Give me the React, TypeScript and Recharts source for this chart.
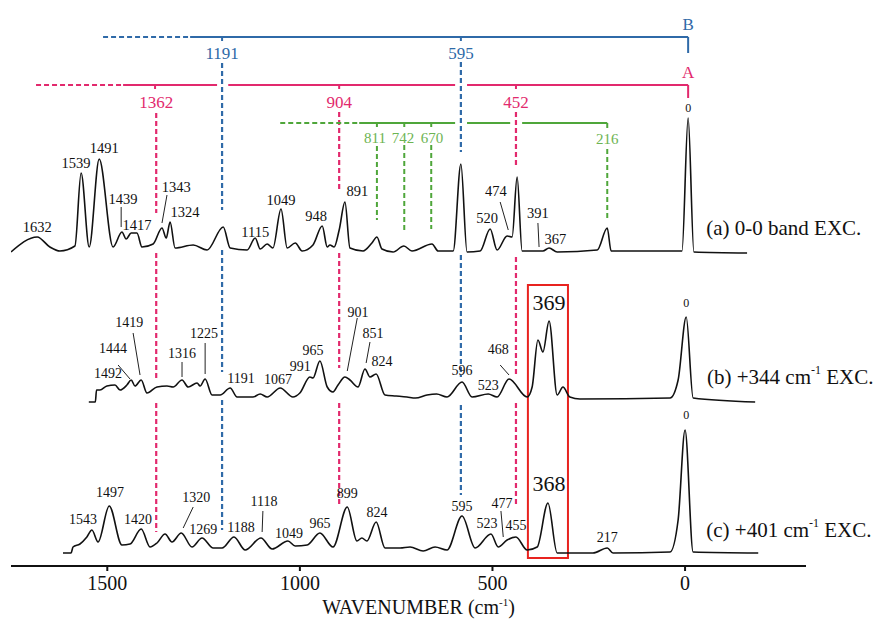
import { LineChart, Line, XAxis, YAxis, ReferenceLine, ReferenceDot, ReferenceArea } from 'recharts';

const SERIF = 'Liberation Serif, DejaVu Serif, serif';
const MAGENTA = '#e2296d';
const BLUE = '#2f6aa8';
const GREEN = '#4fa63a';
const GREEN_TEXT = '#6db452';
const RED = '#e8231f';

// wavenumber (cm-1), intensity (offset per trace)
const traceA: [number, number][] = [
  [1750, 314], [1682, 329], [1649, 319], [1623, 315], [1584, 320], [1568, 393], [1547, 319], [1521, 407],
  [1485, 319], [1462, 334], [1451, 327], [1438, 333], [1423, 333], [1410, 319], [1381, 322], [1358, 338],
  [1347, 328], [1337, 344], [1324, 318], [1277, 321], [1241, 316], [1199, 339], [1181, 318], [1137, 316],
  [1116, 328], [1103, 317], [1085, 322], [1070, 318], [1049, 357], [1033, 318], [1012, 323], [994, 315],
  [966, 321], [942, 340], [929, 319], [922, 321], [911, 319], [898, 336], [883, 364], [870, 318],
  [836, 315], [813, 323], [800, 329], [787, 317], [758, 314], [730, 320], [709, 315], [657, 322],
  [641, 315], [602, 315], [582, 402], [566, 314], [532, 315], [506, 337], [488, 316], [462, 330],
  [449, 329], [436, 389], [423, 315], [369, 315], [353, 318], [332, 314], [228, 316], [202, 338],
  [192, 315], [8, 315], [-8, 448], [-23, 314], [-161, 313],
];

const traceB: [number, number][] = [
  [1548, 164], [1531, 164], [1528, 176], [1519, 176], [1501, 180], [1480, 181], [1467, 176], [1449, 181],
  [1438, 186], [1428, 180], [1412, 186], [1397, 173], [1371, 179], [1345, 180], [1329, 179], [1306, 186],
  [1290, 179], [1267, 183], [1259, 180], [1246, 187], [1228, 171], [1207, 171], [1181, 178], [1163, 169],
  [1122, 169], [1103, 172], [1085, 169], [1051, 178], [1018, 169], [1000, 173], [974, 189], [966, 188],
  [948, 205], [929, 179], [914, 174], [901, 181], [883, 189], [870, 186], [849, 179], [831, 197],
  [818, 189], [802, 192], [779, 171], [750, 170], [722, 169], [700, 168], [670, 171], [645, 172],
  [618, 169], [579, 184], [553, 169], [511, 172], [488, 169], [457, 187], [410, 169], [397, 179],
  [382, 226], [369, 214], [353, 245], [332, 171], [317, 179], [299, 169], [273, 167], [39, 168],
  [18, 186], [-3, 249], [-21, 168], [-182, 164],
];

const traceC: [number, number][] = [
  [1615, 13], [1594, 13], [1589, 19], [1571, 22], [1553, 29], [1540, 36], [1524, 24], [1495, 60],
  [1462, 21], [1441, 22], [1412, 37], [1389, 19], [1371, 23], [1350, 32], [1332, 24], [1308, 33],
  [1280, 19], [1254, 28], [1225, 18], [1202, 18], [1171, 29], [1142, 16], [1101, 28], [1072, 17],
  [1031, 25], [1012, 20], [981, 21], [948, 33], [914, 19], [877, 59], [852, 25], [839, 28],
  [826, 25], [802, 44], [779, 18], [740, 18], [714, 19], [680, 15], [649, 19], [618, 16],
  [579, 50], [545, 18], [504, 32], [485, 19], [462, 26], [439, 29], [410, 16], [384, 19],
  [356, 63], [332, 13], [273, 13], [239, 13], [202, 18], [187, 13], [39, 14], [18, 46],
  [0, 136], [-21, 14], [-190, 13],
];

const xTicks = [1500, 1000, 500, 0];

// peak labels: text, wavenumber, intensity
const peaksA: [string, number, number][] = [
  ['1632', 1682, 339], ['1539', 1581, 403], ['1491', 1508, 418], ['1439', 1459, 367], ['1417', 1423, 341],
  ['1343', 1321, 379], ['1324', 1298, 354], ['1115', 1116, 334], ['1049', 1049, 366], ['948', 958, 350],
  ['891', 851, 375], ['520', 514, 348], ['474', 491, 375], ['391', 382, 353], ['367', 337, 327],
];
const peaksB: [string, number, number][] = [
  ['1492', 1498, 193], ['1444', 1485, 218], ['1419', 1443, 244], ['1316', 1306, 213], ['1225', 1249, 233],
  ['1191', 1153, 188], ['1067', 1057, 187], ['991', 999, 200], ['965', 966, 216], ['901', 849, 254],
  ['851', 810, 233], ['824', 787, 205], ['596', 579, 196], ['523', 511, 181], ['468', 485, 217],
];
const peaksC: [string, number, number][] = [
  ['1543', 1563, 47], ['1497', 1493, 74], ['1420', 1420, 47], ['1320', 1269, 69], ['1269', 1251, 37],
  ['1188', 1153, 39], ['1118', 1093, 65], ['1049', 1028, 33], ['965', 948, 43], ['899', 877, 73],
  ['824', 800, 54], ['595', 579, 60], ['523', 514, 43], ['477', 475, 63], ['455', 439, 41], ['217', 202, 29],
];
const originLabels: [string, number, number][] = [['0', -8, 458], ['0', -3, 263], ['0', -3, 151]];
const boxedLabels: [string, number, number][] = [['369', 353, 264], ['368', 353, 83]];

const leaders: [number, number, number, number][] = [
  [1464, 359, 1464, 339], [1345, 371, 1358, 343], [480, 364, 459, 336], [382, 343, 379, 319],
  [1472, 201, 1441, 187], [1433, 233, 1415, 191], [1306, 204, 1306, 189], [1246, 223, 1246, 192],
  [851, 248, 877, 195], [818, 224, 828, 203], [480, 201, 457, 191],
  [1277, 59, 1303, 38], [1096, 55, 1098, 34], [478, 55, 472, 29],
];

// progression brackets
const blueLabels: [string, number, number][] = [['1191', 1202, 513], ['595', 582, 513], ['B', -8, 542]];
const magentaLabels: [string, number, number][] = [['1362', 1373, 464], ['904', 898, 464], ['452', 439, 464], ['A', -8, 494]];
const greenLabels: [string, number, number][] = [['811', 805, 428], ['742', 732, 428], ['670', 657, 428], ['216', 202, 427]];

const blueSolid: [number, number, number, number][] = [
  [1285, 529, -8, 529], [-8, 529, -8, 513], [1202, 529, 1202, 525], [582, 529, 582, 525],
];
const blueDashed: [number, number, number, number][] = [
  [1511, 529, 1285, 529],
  [1202, 503, 1202, 356], [1202, 316, 1202, 194], [1202, 166, 1202, 36],
  [582, 504, 582, 414], [582, 311, 582, 189], [582, 161, 582, 71],
];
const magentaSolid: [number, number, number, number][] = [
  [1459, 481, 1215, 481], [1186, 481, 597, 481], [566, 481, -8, 481], [-8, 481, -8, 468],
  [1376, 481, 1376, 477], [898, 481, 898, 477], [439, 481, 439, 477],
];
const magentaDashed: [number, number, number, number][] = [
  [1685, 481, 1459, 481],
  [1373, 453, 1373, 353], [1373, 313, 1373, 186], [1373, 163, 1373, 34],
  [898, 454, 898, 376], [898, 313, 898, 198], [898, 163, 898, 61],
  [439, 454, 439, 401], [439, 309, 439, 189], [439, 163, 439, 59],
];
const greenSolid: [number, number, number, number][] = [
  [846, 443, 597, 443], [566, 443, 454, 443], [423, 443, 202, 443], [202, 443, 202, 438],
  [800, 443, 800, 439], [729, 443, 729, 439], [659, 443, 659, 439],
];
const greenDashed: [number, number, number, number][] = [
  [1051, 443, 846, 443],
  [800, 420, 800, 346], [729, 421, 729, 336], [659, 421, 659, 337], [202, 417, 202, 348],
];

const traceNames: [string, string, string, number, number][] = [
  ['(a) 0-0 band EXC.', '', '', -55, 338],
  ['(b) +344 cm', '-1', ' EXC.', -57, 189],
  ['(c) +401 cm', '-1', ' EXC.', -55, 36],
];

const toPoints = (t: [number, number][]) => t.map(([w, v]) => ({ w, v }));

function textContent(text: string, fill: string, size: number, anchor = 'middle') {
  return (props: any) => {
    const vb = props.viewBox || {};
    const x = vb.x + (vb.width || 0) / 2;
    const y = vb.y + (vb.height || 0) / 2;
    return (
      <text x={x} y={y} fill={fill} style={{ fontFamily: SERIF, fontSize: size }} textAnchor={anchor} dominantBaseline="central">
        {text}
      </text>
    );
  };
}

function nameContent(main: string, sup: string, rest: string) {
  return (props: any) => {
    const vb = props.viewBox || {};
    const x = vb.x + (vb.width || 0) / 2;
    const y = vb.y + (vb.height || 0) / 2;
    return (
      <text x={x} y={y} fill="#111" style={{ fontFamily: SERIF, fontSize: 21 }} textAnchor="start" dominantBaseline="central">
        {main}
        {sup && <tspan style={{ fontSize: 12 }} dy={-7}>{sup}</tspan>}
        {rest && <tspan dy={sup ? 7 : 0}>{rest}</tspan>}
      </text>
    );
  };
}

const axisTitle = (props: any) => {
  const vb = props.viewBox || {};
  return (
    <text x={vb.x + vb.width / 2 + 10} y={vb.y + 48} fill="#111" style={{ fontFamily: SERIF, fontSize: 20 }} textAnchor="middle">
      WAVENUMBER (cm<tspan style={{ fontSize: 11 }} dy={-8}>-1</tspan><tspan dy={8}>)</tspan>
    </text>
  );
};

function labelDots(list: [string, number, number][], fill: string, size: number, prefix: string) {
  return list.map(([t, w, v], i) => (
    <ReferenceDot key={`${prefix}${i}`} x={w} y={v} r={1} fill="none" stroke="none" ifOverflow="visible"
      label={textContent(t, fill, size)} />
  ));
}

function segments(list: [number, number, number, number][], stroke: string, width: number, prefix: string, dash?: string) {
  return list.map(([w1, v1, w2, v2], i) => (
    <ReferenceLine key={`${prefix}${i}`} segment={[{ x: w1, y: v1 }, { x: w2, y: v2 }]} stroke={stroke}
      strokeWidth={width} strokeDasharray={dash} ifOverflow="visible" />
  ));
}

export default function App() {
  return (
    <div style={{ position: 'absolute', left: 0, top: 0, width: 876, height: 619, background: '#fff', fontFamily: SERIF }}>
      <LineChart width={876} height={619} margin={{ top: 0, right: 70, bottom: 0, left: 11 }} style={{ fontFamily: SERIF }}>
        <XAxis dataKey="w" type="number" domain={[-314, 1750]} allowDataOverflow reversed ticks={xTicks}
          height={53} stroke="#111" strokeWidth={2} tickSize={5} tickMargin={5}
          tick={{ fontSize: 20, fill: '#111', style: { fontFamily: SERIF } }} label={axisTitle} />
        <YAxis hide type="number" domain={[0, 566]} allowDataOverflow />

        {segments(blueDashed, BLUE, 2.2, 'bd', '5 3')}
        {segments(magentaDashed, MAGENTA, 2.2, 'md', '5 3')}
        {segments(greenDashed, GREEN, 2, 'gd', '5 3')}
        {segments(blueSolid, BLUE, 2, 'bs')}
        {segments(magentaSolid, MAGENTA, 2, 'ms')}
        {segments(greenSolid, GREEN, 2, 'gs')}
        {segments(leaders, '#222', 1, 'ld')}

        <ReferenceArea x1={408} x2={304} y1={8} y2={281} fill="none" stroke={RED} strokeWidth={2} ifOverflow="visible" />

        <Line data={toPoints(traceA)} dataKey="v" type="monotone" stroke="#111" strokeWidth={1.6} dot={false} isAnimationActive={false} />
        <Line data={toPoints(traceB)} dataKey="v" type="monotone" stroke="#111" strokeWidth={1.6} dot={false} isAnimationActive={false} />
        <Line data={toPoints(traceC)} dataKey="v" type="monotone" stroke="#111" strokeWidth={1.6} dot={false} isAnimationActive={false} />

        {labelDots(peaksA, '#111', 14.5, 'pa')}
        {labelDots(peaksB, '#111', 14, 'pb')}
        {labelDots(peaksC, '#111', 14, 'pc')}
        {labelDots(originLabels, '#111', 12, 'o')}
        {labelDots(boxedLabels, '#111', 22, 'bx')}
        {labelDots(blueLabels, BLUE, 17, 'bl')}
        {labelDots(magentaLabels, MAGENTA, 17, 'ml')}
        {labelDots(greenLabels, GREEN_TEXT, 15, 'gl')}

        {traceNames.map(([m, s, r, w, v], i) => (
          <ReferenceDot key={`tn${i}`} x={w} y={v} r={1} fill="none" stroke="none" ifOverflow="visible"
            label={nameContent(m, s, r)} />
        ))}
      </LineChart>
    </div>
  );
}
